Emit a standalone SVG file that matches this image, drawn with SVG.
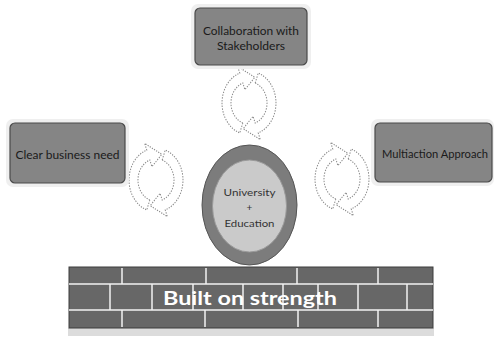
<svg xmlns="http://www.w3.org/2000/svg" width="494" height="340" viewBox="0 0 494 340">
  <defs>
    <style>
      .box { fill: #858585; stroke: #4a4a4a; stroke-width: 1.2; }
      .lbl { font-family: Lato, "Liberation Sans", sans-serif; font-size: 11px; fill: #1a1a1a; text-anchor: middle; dominant-baseline: central; }
      .clbl { font-family: Lato, "Liberation Sans", sans-serif; font-size: 10px; fill: #333; text-anchor: middle; dominant-baseline: central; }
      .cyc { fill: #ffffff; stroke: #8a8a8a; stroke-width: 1; stroke-dasharray: 1.2 1.2; vector-effect: non-scaling-stroke; }
      .mortar { stroke: #f2f2f2; stroke-width: 1.5; }
      .halo { fill: #efefef; }
    </style>
    <path id="arc" d="M-6.16,16.92 A18,18 0 0 1 -6.16,-16.92 L-4.10,-11.28 L5.82,-21.73 L-11.29,-31.01 L-9.23,-25.37 A27,27 0 0 0 -9.23,25.37 Z"/>
    <g id="cycle">
      <use href="#arc" class="cyc"/>
      <use href="#arc" class="cyc" transform="rotate(180)"/>
    </g>
  </defs>

  <rect width="494" height="340" fill="#ffffff"/>

  <g id="connectors">
    <g transform="translate(249,103) scale(1,1.18)"><use href="#arc" class="cyc"/><use href="#arc" class="cyc" transform="rotate(180)"/></g>
    <g transform="translate(156,180) scale(1,1.18)"><use href="#arc" class="cyc"/><use href="#arc" class="cyc" transform="rotate(180)"/></g>
    <g transform="translate(342,179) scale(1,1.18)"><use href="#arc" class="cyc"/><use href="#arc" class="cyc" transform="rotate(180)"/></g>
  </g>

  <g id="node-collaboration">
    <rect class="halo" x="191" y="4" width="120" height="65" rx="7"/>
    <rect class="box" x="195" y="8" width="112" height="57" rx="5"/>
    <text class="lbl" x="251" y="30" textLength="96" lengthAdjust="spacingAndGlyphs">Collaboration with</text>
    <text class="lbl" x="251" y="45" textLength="68" lengthAdjust="spacingAndGlyphs">Stakeholders</text>
  </g>

  <g id="node-clear">
    <rect class="halo" x="6" y="119" width="123" height="68" rx="7"/>
    <rect class="box" x="10" y="123" width="115" height="60" rx="5"/>
    <text class="lbl" x="67.5" y="154" textLength="104" lengthAdjust="spacingAndGlyphs">Clear business need</text>
  </g>

  <g id="node-multiaction">
    <rect class="halo" x="371" y="119" width="123" height="67" rx="7"/>
    <rect class="box" x="375" y="123" width="117" height="59" rx="5"/>
    <text class="lbl" x="435" y="153" textLength="106" lengthAdjust="spacingAndGlyphs">Multiaction Approach</text>
  </g>

  <g id="node-university">
    <ellipse cx="249.5" cy="205" rx="47.5" ry="60" fill="#7c7c7c" stroke="#555" stroke-width="1"/>
    <ellipse cx="249.5" cy="206" rx="37" ry="46" fill="#cacaca" stroke="#9a9a9a" stroke-width="1"/>
    <text class="clbl" x="249.5" y="192" textLength="52" lengthAdjust="spacingAndGlyphs">University</text>
    <text class="clbl" x="249.5" y="207">+</text>
    <text class="clbl" x="249.5" y="223" textLength="50" lengthAdjust="spacingAndGlyphs">Education</text>
  </g>

  <g id="node-wall">
    <rect x="68" y="328" width="366" height="8" fill="#dcdcdc"/>
    <rect x="69" y="267" width="364" height="61" fill="#676767" stroke="#3c3c3c" stroke-width="1"/>
    <g class="mortar">
      <line x1="69" y1="284" x2="433" y2="284"/>
      <line x1="69" y1="310" x2="433" y2="310"/>
      <line x1="122" y1="268" x2="122" y2="284"/>
      <line x1="206" y1="268" x2="206" y2="284"/>
      <line x1="297" y1="268" x2="297" y2="284"/>
      <line x1="378" y1="268" x2="378" y2="284"/>
      <line x1="110" y1="284" x2="110" y2="310"/>
      <line x1="152" y1="284" x2="152" y2="310"/>
      <line x1="193" y1="284" x2="193" y2="310"/>
      <line x1="243" y1="284" x2="243" y2="310"/>
      <line x1="283" y1="284" x2="283" y2="310"/>
      <line x1="318" y1="284" x2="318" y2="310"/>
      <line x1="358" y1="284" x2="358" y2="310"/>
      <line x1="407" y1="284" x2="407" y2="310"/>
      <line x1="122" y1="310" x2="122" y2="327"/>
      <line x1="205" y1="310" x2="205" y2="327"/>
      <line x1="298" y1="310" x2="298" y2="327"/>
      <line x1="378" y1="310" x2="378" y2="327"/>
    </g>
    <text x="250" y="305" font-family="Lato, 'Liberation Sans', sans-serif" font-size="19" font-weight="bold" fill="#ffffff" text-anchor="middle" textLength="174" lengthAdjust="spacingAndGlyphs">Built on strength</text>
  </g>
</svg>
